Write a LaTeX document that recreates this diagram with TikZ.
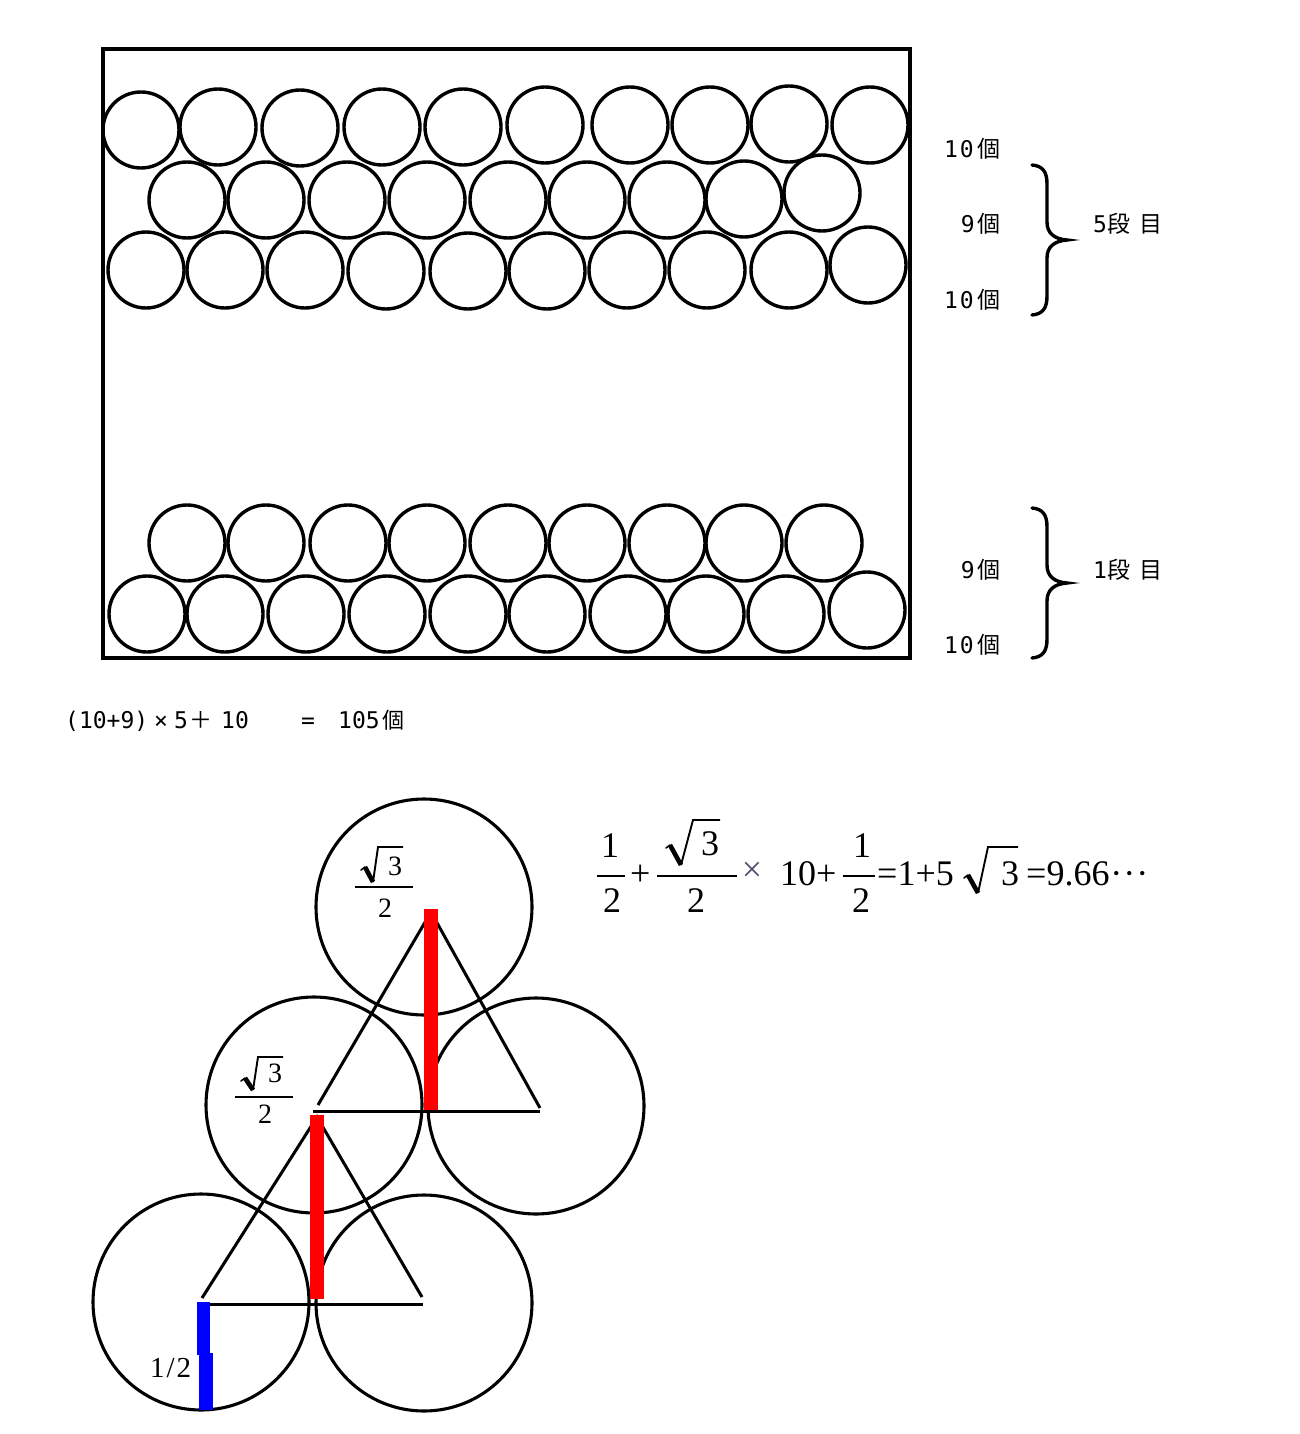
\documentclass[tikz,border=0pt]{standalone}
\usepackage{fontspec}
\setmainfont{Liberation Serif}
\newfontfamily\jp{Noto Sans CJK JP}
\newfontfamily\mono{DejaVu Sans Mono}
\definecolor{xgray}{RGB}{80,80,110}
% radical sign: tick x,y ; bottom x,y ; top x,y ; end x
\newcommand{\myrad}[7]{%
  \draw[line width=1.6pt, line cap=round] ({#1-4},{#2+3}) -- (#1,#2);
  \draw[line width=4.6pt] (#1,#2) -- (#3,#4);
  \draw[line width=1.9pt, line join=miter] (#3,#4) -- (#5,#6) -- (#7,#6);
}
\begin{document}
\begin{tikzpicture}[x=1pt,y=-1pt,
  ball/.style={draw, line width=3.4pt},
  bigball/.style={draw, line width=3.1pt},
  lbl/.style={inner sep=0pt, anchor=base east, font=\fontsize{23}{23}\selectfont},
  stage/.style={inner sep=0pt, anchor=base west, font=\fontsize{23}{23}\selectfont},
  calc/.style={inner sep=0pt, anchor=base west, font=\fontsize{23}{23}\selectfont},
  brace/.style={draw, line width=3.4pt, line cap=round},
  fr/.style={inner sep=0pt, anchor=base, font=\fontsize{36}{36}\selectfont},
  sf/.style={inner sep=0pt, anchor=base, font=\fontsize{28}{28}\selectfont},
  redbar/.style={fill=red, draw=none},
  bluebar/.style={fill=blue, draw=none},
  fline/.style={line width=1.9pt},
  tri/.style={line width=3pt},
]
\useasboundingbox (0,0) rectangle (1300,1434);
\fill[white] (0,0) rectangle (1300,1434);

% ---- box with circles ----
\draw[line width=3.5pt] (103,49) rectangle (910,658);
\foreach \x/\y in {141/130,218/127,300/128,382/127,463/127,545/125,630/125,710/125,789/124,870/125}
  \draw[ball] (\x,\y) circle[radius=38pt];
\foreach \x/\y in {187/200,266/200,347/200,427/200,508/200,587/200,667/200,744/199,822/193}
  \draw[ball] (\x,\y) circle[radius=38pt];
\foreach \x/\y in {146/270,225/270,305/270,386/271,468/271,547/271,627/270,707/270,789/270,868/265}
  \draw[ball] (\x,\y) circle[radius=38pt];
\foreach \x in {187,266,348,427,508,587,667,744,824}
  \draw[ball] (\x,543) circle[radius=38pt];
\foreach \x/\y in {147/614,225/614,306/614,387/614,468/614,547/614,628/614,706/614,786/614,867/610}
  \draw[ball] (\x,\y) circle[radius=38pt];

% ---- labels ----
\node[lbl] (r1) at (1001,158) {{\mono 1\kern2pt0}\kern4pt{\jp 個}};
\node[lbl] (r2) at (1001,233) {{\mono 9}\kern3pt{\jp 個}};
\node[lbl] (r3) at (1001,308) {{\mono 1\kern2pt0}\kern4pt{\jp 個}};
\node[stage] (s5) at (1093,233) {{\mono 5}{\jp 段\hspace{9pt}目}};
\node[lbl] (r4) at (1001,578) {{\mono 9}\kern3pt{\jp 個}};
\node[lbl] (r5) at (1001,653) {{\mono 1\kern2pt0}\kern4pt{\jp 個}};
\node[stage] (s1) at (1093,578) {{\mono 1}{\jp 段\hspace{9pt}目}};

\draw[brace] (1032,165) .. controls (1043,166) and (1047,172) .. (1047,184) -- (1047,222)
  .. controls (1047,233) and (1054,239) .. (1067,240)
  .. controls (1054,241) and (1047,247) .. (1047,258) -- (1047,296)
  .. controls (1047,308) and (1043,314) .. (1032,315);
\begin{scope}[shift={(0,343)}]
\draw[brace] (1032,165) .. controls (1043,166) and (1047,172) .. (1047,184) -- (1047,222)
  .. controls (1047,233) and (1054,239) .. (1067,240)
  .. controls (1054,241) and (1047,247) .. (1047,258) -- (1047,296)
  .. controls (1047,308) and (1043,314) .. (1032,315);
\end{scope}

% ---- count formula ----
\node[calc] (c1) at (65,728) {\mono (10+9)};
\node[calc, anchor=base] (c2) at (161,728) {\mono ×};
\node[calc] (c3) at (174,728) {\mono 5};
\node[calc] (c4) at (189,728) {\jp ＋};
\node[calc] (c5) at (221,728) {\mono 10};
\node[calc, anchor=base] (c6) at (308,728) {\mono =};
\node[calc] (c7) at (338,728) {{\mono 105}\hspace{3pt}{\jp\fontsize{22}{22}\selectfont 個}};

% ---- circle triangle diagram ----
\draw[bigball] (424,907) circle[radius=108pt];
\draw[bigball] (314,1105) circle[radius=108pt];
\draw[bigball] (536,1106) circle[radius=108pt];
\draw[bigball] (201,1302) circle[radius=108pt];
\draw[bigball] (424,1303) circle[radius=108pt];

\draw[tri] (318,1105) -- (431,912) -- (540,1108);
\draw[tri] (313,1111) -- (540,1111);
\draw[tri] (202,1298) -- (317,1117) -- (422,1297);
\draw[tri] (208,1304) -- (423,1304);

\fill[redbar] (424,909) rectangle (438,1110);
\fill[redbar] (310,1115) rectangle (324,1299);
\fill[bluebar] (197,1302) rectangle (210,1355);
\fill[bluebar] (199,1353) rectangle (213,1410);

\node[sf, anchor=base west, font=\fontsize{29}{29}\selectfont] (half) at (150,1377) {1\kern2pt/\kern2pt2};

% small fractions
\myrad{365}{867}{373}{882}{378}{847}{403}
\node[sf] (n1) at (395,875) {3};
\draw[line width=1.6pt] (355,887) -- (413,887);
\node[sf] (d1) at (385,917) {2};

\myrad{245}{1078}{253}{1090}{258}{1057}{283}
\node[sf] (n2) at (275,1082) {3};
\draw[line width=1.6pt] (235,1097) -- (293,1097);
\node[sf] (d2) at (265,1123) {2};

% ---- big formula ----
\node[fr] (f1n) at (610,857) {1};
\draw[fline] (597,876) -- (625,876);
\node[fr] (f1d) at (612,912) {2};
\node[fr, anchor=base west] (p1) at (630,885) {+};
\myrad{670}{845}{681}{865}{693}{820}{720}
\node[fr] (f2n) at (710,855) {3};
\draw[fline] (657,876) -- (737,876);
\node[fr] (f2d) at (696,912) {2};
\node[inner sep=0pt, font=\fontsize{36}{36}\selectfont, text=xgray] (tm) at (752,872) {×};
\node[fr, anchor=base west] (t10) at (780,885) {10+};
\node[fr] (f3n) at (862,857) {1};
\draw[fline] (843,876) -- (875,876);
\node[fr] (f3d) at (861,912) {2};
\node[fr, anchor=base west] (eq1) at (877,885) {=1+5};
\myrad{968}{875}{978}{893}{988}{847}{1018}
\node[fr] (r3n) at (1010,885) {3};
\node[fr, anchor=base west] (eq2) at (1026,885) {=9.66\kern1pt·\kern1pt·\kern1pt·};
\end{tikzpicture}
\end{document}
